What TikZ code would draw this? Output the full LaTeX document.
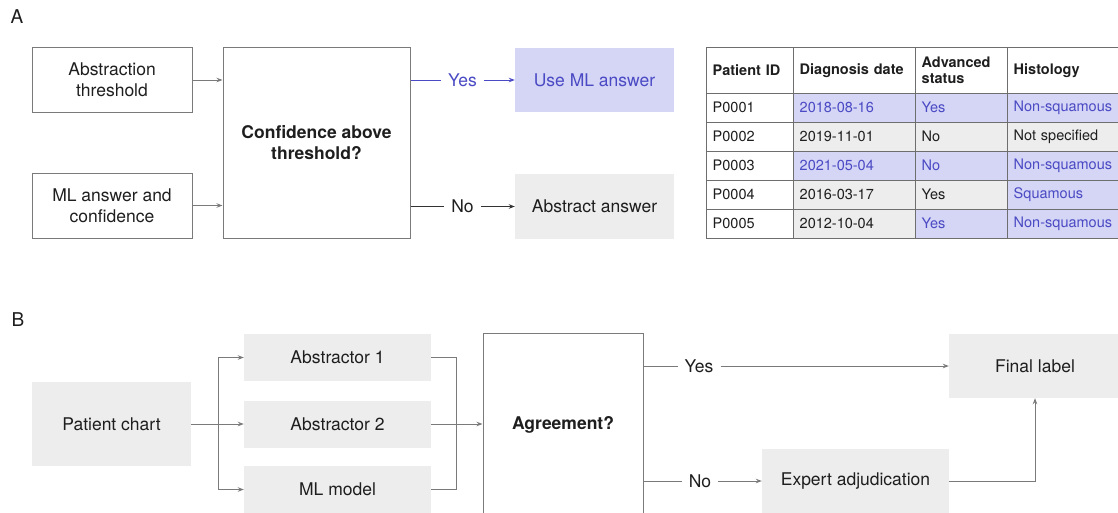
\documentclass[tikz,border=0pt]{standalone}
\usepackage{fontspec}
\setmainfont{TeX Gyre Heros}
\usetikzlibrary{arrows.meta}
\definecolor{lav}{HTML}{D5D5F6}
\definecolor{bluetxt}{HTML}{4A4AC4}
\definecolor{gfill}{HTML}{EDEDED}
\definecolor{lgray}{HTML}{7A7A7A}
\definecolor{grid}{HTML}{6E6E6E}
\definecolor{txt}{HTML}{1E1E1E}
\definecolor{dline}{HTML}{333333}
\begin{document}
\begin{tikzpicture}[x=1pt,y=-1pt,
  >={Stealth[length=6pt,width=4.5pt]},
  base/.style={font=\fontsize{17.5}{21}\selectfont, text=txt, align=center, inner sep=0pt},
  obox/.style={base, draw=lgray, line width=1pt},
  gbox/.style={base, fill=gfill},
  vbox/.style={base, fill=lav, text=bluetxt},
  conn/.style={draw=lgray, line width=1pt},
  lbl/.style={base, inner xsep=7pt, inner ysep=0pt},
  panel/.style={font=\fontsize{19}{22}\selectfont, text=txt, inner sep=0pt},
  cell/.style={font=\fontsize{14.5}{16.5}\selectfont, text=txt, align=left, inner xsep=6.5pt, inner ysep=0pt, anchor=north west},
  hd/.style={font=\fontsize{14.5}{16.5}\selectfont\bfseries},
  c1/.style={minimum width=87pt, text width=74pt},
  c2/.style={minimum width=122pt, text width=109pt},
  c3/.style={minimum width=92pt, text width=79pt},
  c4/.style={minimum width=125pt, text width=112pt},
  hrow/.style={minimum height=46pt},
  rrow/.style={minimum height=29pt},
  lv/.style={fill=lav, text=bluetxt},
  gy/.style={fill=gfill},
]
\useasboundingbox (0,0) rectangle (1118,512);

% ---------------- Panel A ----------------
\node[panel] (labA) at (17,17) {A};
\node[obox, minimum width=160pt, minimum height=65pt] (thr) at (112,80) {Abstraction\\threshold};
\node[obox, minimum width=160pt, minimum height=65pt] (mlc) at (112,205.5) {ML answer and\\confidence};
\node[obox, minimum width=187pt, minimum height=191pt, font=\fontsize{17.5}{21}\selectfont\bfseries] (conf) at (316.5,142.5) {Confidence above\\threshold?};
\node[vbox, minimum width=159pt, minimum height=64pt] (useml) at (594.5,80) {Use ML answer};
\node[gbox, minimum width=159pt, minimum height=65pt] (absans) at (594.5,206.5) {Abstract answer};

\draw[conn,->] (thr.east) -- (thr.east -| conf.west);
\draw[conn,->] (mlc.east) -- (mlc.east -| conf.west);

\node[lbl, text=bluetxt] (yesA) at (462.5,80) {Yes};
\draw[draw=bluetxt, line width=1pt] (yesA.west -| conf.east) -- (yesA.west);
\draw[draw=bluetxt, line width=1pt, ->] (yesA.east) -- (useml.west);

\node[lbl] (noA) at (462.5,206.5) {No};
\draw[draw=dline, line width=1pt] (noA.west -| conf.east) -- (noA.west);
\draw[draw=dline, line width=1pt, ->] (noA.east) -- (absans.west);

% ---------------- Table ----------------
\node[cell,hd,c1,hrow] (h1) at (706,47) {Patient ID};
\node[cell,hd,c2,hrow] (h2) at (793,47) {Diagnosis date};
\node[cell,hd,c3,hrow] (h3) at (915,47) {Advanced\\status};
\node[cell,hd,c4,hrow] (h4) at (1007,47) {Histology};

\node[cell,c1,rrow] (r1a) at (706,93) {P0001};
\node[cell,c2,rrow,lv] (r1b) at (793,93) {2018-08-16};
\node[cell,c3,rrow,lv] (r1c) at (915,93) {Yes};
\node[cell,c4,rrow,lv] (r1d) at (1007,93) {Non-squamous};

\node[cell,c1,rrow] (r2a) at (706,122) {P0002};
\node[cell,c2,rrow,gy] (r2b) at (793,122) {2019-11-01};
\node[cell,c3,rrow,gy] (r2c) at (915,122) {No};
\node[cell,c4,rrow,gy] (r2d) at (1007,122) {Not specified};

\node[cell,c1,rrow] (r3a) at (706,151) {P0003};
\node[cell,c2,rrow,lv] (r3b) at (793,151) {2021-05-04};
\node[cell,c3,rrow,lv] (r3c) at (915,151) {No};
\node[cell,c4,rrow,lv] (r3d) at (1007,151) {Non-squamous};

\node[cell,c1,rrow] (r4a) at (706,180) {P0004};
\node[cell,c2,rrow,gy] (r4b) at (793,180) {2016-03-17};
\node[cell,c3,rrow,gy] (r4c) at (915,180) {Yes};
\node[cell,c4,rrow,lv] (r4d) at (1007,180) {Squamous};

\node[cell,c1,rrow] (r5a) at (706,209) {P0005};
\node[cell,c2,rrow,gy] (r5b) at (793,209) {2012-10-04};
\node[cell,c3,rrow,lv] (r5c) at (915,209) {Yes};
\node[cell,c4,rrow,lv] (r5d) at (1007,209) {Non-squamous};

\foreach \yy in {47,93,122,151,180,209,238}
  \draw[grid, line width=0.9pt] (706,\yy) -- (1118,\yy);
\foreach \xx in {706,793,915,1007}
  \draw[grid, line width=0.9pt] (\xx,47) -- (\xx,238);

% ---------------- Panel B ----------------
\node[panel] (labB) at (18,320) {B};
\node[gbox, minimum width=159pt, minimum height=84pt] (chart) at (111.5,424) {Patient chart};
\node[gbox, minimum width=187pt, minimum height=47pt] (ab1) at (337.5,357.5) {Abstractor 1};
\node[gbox, minimum width=187pt, minimum height=47pt] (ab2) at (337.5,424) {Abstractor 2};
\node[gbox, minimum width=187pt, minimum height=47pt] (mlm) at (337.5,489.5) {ML model};
\node[obox, minimum width=160pt, minimum height=184pt, font=\fontsize{17.5}{21}\selectfont\bfseries] (agree) at (563,425) {Agreement?};
\node[gbox, minimum width=172pt, minimum height=64pt] (final) at (1035,366) {Final label};
\node[gbox, minimum width=187pt, minimum height=64pt] (expert) at (855.5,481) {Expert adjudication};

\coordinate (split) at (218,424);
\coordinate (merge) at (456,424);
\draw[conn,->] (chart.east) -- (ab2.west);
\draw[conn,->] (split) |- (ab1.west);
\draw[conn,->] (split) |- (mlm.west);
\draw[conn] (ab1.east) -| (merge);
\draw[conn] (mlm.east) -| (merge);
\draw[conn,->] (ab2.east) -- (ab2.east -| agree.west);

\node[lbl] (yesB) at (699,366) {Yes};
\draw[conn] (yesB.west -| agree.east) -- (yesB.west);
\draw[conn,->] (yesB.east) -- (final.west);

\node[lbl] (noB) at (700,481) {No};
\draw[conn] (noB.west -| agree.east) -- (noB.west);
\draw[conn,->] (noB.east) -- (expert.west);
\draw[conn,->] (expert.east) -| (final.south);
\end{tikzpicture}
\end{document}
